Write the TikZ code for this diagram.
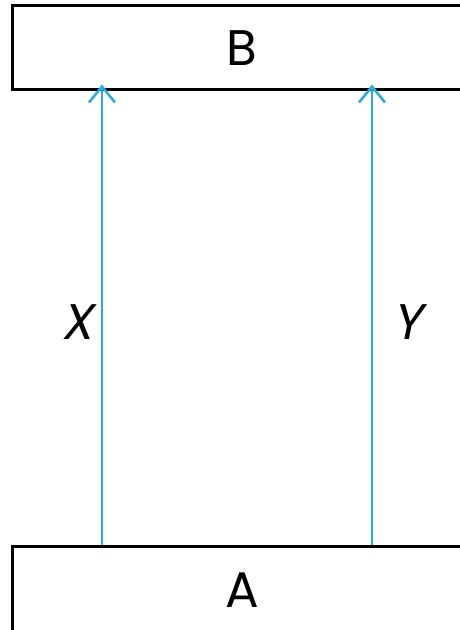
\documentclass[tikz,border=0pt]{standalone}
\usepackage{fontspec}
\setmainfont{Poppins}
\newfontfamily\slantfont[FakeSlant=0.2]{Poppins}
\usetikzlibrary{arrows.meta}
\definecolor{arrowblue}{RGB}{41,171,226}
\begin{document}
\begin{tikzpicture}[x=1pt,y=1pt,
  boxstyle/.style={draw=black, line width=3pt, minimum width=460pt, inner sep=0pt, font=\fontsize{50}{54}\selectfont},
  flow/.style={draw=arrowblue, line width=2.5pt, -{Straight Barb[length=16pt,width=26pt,line width=2.5pt]}, shorten >=-7pt},
  lbl/.style={font=\fontsize{50}{54}\selectfont\slantfont, inner sep=0pt}]
\useasboundingbox (0,0) rectangle (459,630);
\node[boxstyle, minimum height=84pt] (B) at (242,582) {B};
\node[boxstyle, minimum height=86pt] (A) at (242,40) {A};
\coordinate (xl) at (102,300);
\coordinate (xr) at (372,300);
\draw[flow] (A.north -| xl) -- (B.south -| xl);
\draw[flow] (A.north -| xr) -- (B.south -| xr);
\node[lbl] (X) at (77,308) {X};
\node[lbl] (Y) at (407,308) {Y};
\end{tikzpicture}
\end{document}
